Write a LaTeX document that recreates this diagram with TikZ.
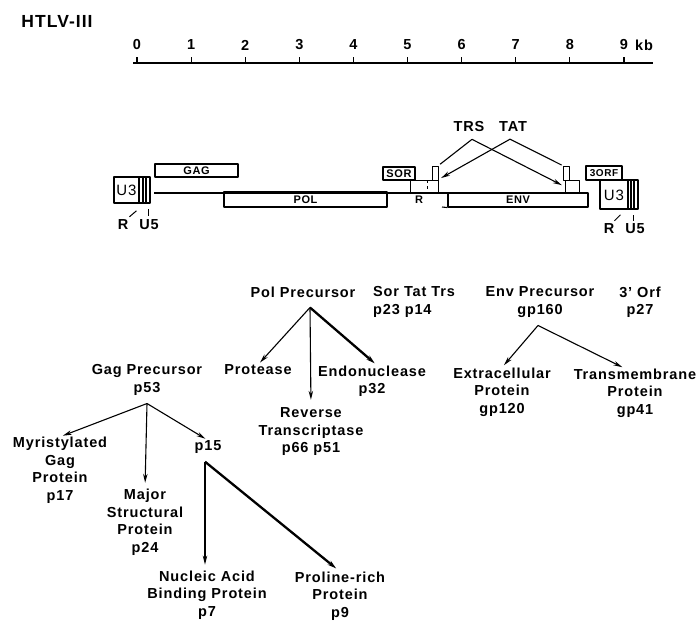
\documentclass[tikz,border=0pt]{standalone}
\usepackage{fontspec}
\setmainfont{Liberation Sans}[LetterSpace=6]
\usetikzlibrary{arrows.meta}
\tikzset{
  lbl/.style={font=\bfseries\fontsize{14.5}{17.5}\selectfont, align=center, inner sep=0pt},
  genebox/.style={draw, line width=1.1pt, inner sep=0pt, font=\bfseries\fontsize{11}{11}\selectfont},
  exon/.style={draw, line width=1pt, inner sep=0pt},
  cut/.style={line width=1.1pt, -{Stealth[length=9pt,width=4.5pt]}, shorten >=3pt},
  heavycut/.style={line width=2.3pt, -{Stealth[length=9pt,width=5pt]}, shorten >=3pt},
}
\begin{document}
\begin{tikzpicture}[x=1pt, y=-1pt, line join=round]
    \useasboundingbox (0,0) rectangle (699,624);
    \node[lbl, font=\bfseries\fontsize{17.5}{17.5}\selectfont] (title) at (57,21) {HTLV-III};
    % kb scale
    \draw[line width=1.3pt] (133,63) -- (653,63);
    \foreach \k in {0,...,9} {
        \node[lbl] (n\k) at ({137+54.1*\k},45) {\k};
        \draw[line width=1.2pt] ({137+54.1*\k},63) -- ++(0,-6);
    }
    \node[lbl] (kb) at (644,45) {kb};
    % genome map
    \draw[line width=1.1pt] (154,193) -- (588,193);
    \draw[line width=1.1pt] (114,177) rectangle (150,203) (139,177) -- (139,203) (143,177) -- (143,203) (146,177) -- (146,203);
    \draw[line width=1.1pt] (600,180) rectangle (638,209) (628,180) -- (628,209) (631,180) -- (631,209) (634,180) -- (634,209);
    \node[inner sep=0pt, font=\fontsize{15}{15}\selectfont] (lu3) at (126.5,190) {U3};
    \node[inner sep=0pt, font=\fontsize{15}{15}\selectfont] (ru3) at (614,195) {U3};
    \node[genebox, minimum width=83pt, minimum height=13pt] (gagbox) at (196.5,170.5) {GAG};
    \node[genebox, minimum width=163pt, minimum height=15pt] (polbox) at (305.5,199.5) {POL};
    \node[genebox, line width=1.7pt, minimum width=32pt, minimum height=13pt] (sorbox) at (399,173.5) {SOR};
    \node[genebox, minimum width=140pt, minimum height=14pt] (envbox) at (518,200) {ENV};
    \node[genebox, line width=1.5pt, minimum width=36pt, minimum height=14pt, font=\bfseries\fontsize{10}{10}\selectfont] (orfbox) at (604,173) {3ORF};
    \draw[line width=1.1pt] (442,207) -- (envbox.south west);
    \node[exon, minimum width=28pt, minimum height=13pt] (lsmall) at (424,186.5) {};
    \node[exon, minimum width=6pt, minimum height=14pt] (ltall) at (435,173) {};
    \draw[dashed, line width=0.8pt] (427,180) -- (427,193);
    \node[exon, minimum width=6pt, minimum height=14pt] (rtall) at (566,173) {};
    \node[exon, minimum width=14pt, minimum height=13pt] (rsmall) at (572,186.5) {};
    \node[lbl, font=\bfseries\fontsize{11}{11}\selectfont] (rlab) at (419,200) {R};
    \node[lbl] (lr) at (123,225) {R};
    \node[lbl] (lu5) at (149,225) {U5};
    \node[lbl] (rr) at (609,229) {R};
    \node[lbl] (ru5) at (635,229) {U5};
    \draw[line width=1pt] ([shift={(1,-3)}]lr.north east) -- ++(7,-6);
    \draw[line width=1pt] ([shift={(-1,-4)}]lu5.north) -- ++(0,-7);
    \draw[line width=1pt] ([shift={(0,-3)}]rr.north east) -- ++(6,-6);
    \draw[line width=1pt] ([shift={(-2,-3)}]ru5.north) -- ++(0,-6);
    \node[lbl] (trs) at (469,127) {TRS};
    \node[lbl] (tat) at (513,127) {TAT};
    \coordinate (trsroot) at ([shift={(3,7)}]trs.south);
    \coordinate (tatroot) at ([shift={(-3,7)}]tat.south);
    \draw[line width=1.1pt, shorten >=2pt] (trsroot) -- (ltall.north east);
    \draw[cut] (trsroot) -- (rsmall.west);
    \draw[cut] (tatroot) -- (lsmall.north east);
    \draw[line width=1.1pt, shorten >=1pt] (tatroot) -- (rtall.north west);
    % protein products
    \node[lbl] (gagp) at (147,380) {Gag Precursor\\p53};
    \node[lbl] (myr) at (60,470) {Myristylated\\Gag\\Protein\\p17};
    \node[lbl] (major) at (145,522) {Major\\Structural\\Protein\\p24};
    \node[lbl] (p15) at (208,447) {p15};
    \node[lbl] (nab) at (207,595) {Nucleic Acid\\Binding Protein\\p7};
    \node[lbl] (prol) at (340,596) {Proline-rich\\Protein\\p9};
    \node[lbl] (polp) at (303,292) {Pol Precursor};
    \node[lbl] (prot) at (258,370) {Protease};
    \node[lbl] (endo) at (372,381) {Endonuclease\\p32};
    \node[lbl] (rt) at (311,432) {Reverse\\Transcriptase\\p66 p51};
    \node[lbl, align=left, anchor=west] (sor) at (373,302) {Sor Tat Trs\\p23 p14};
    \node[lbl] (envp) at (540,302) {Env Precursor\\gp160};
    \node[lbl] (orf) at (640,302) {3' Orf\\p27};
    \node[lbl] (extra) at (502,392) {Extracellular\\Protein\\gp120};
    \node[lbl] (trans) at (635,393) {Transmembrane\\Protein\\gp41};
    \coordinate (gagroot) at ([shift={(0,8)}]gagp.south);
    \coordinate (p15root) at ([shift={(-3,8)}]p15.south);
    \coordinate (polroot) at ([shift={(7,10)}]polp.south);
    \coordinate (envroot) at ([shift={(-2,8)}]envp.south);
    \draw[cut] (gagroot) -- (myr.north);
    \draw[cut, shorten >=6pt] (gagroot) -- (major.north);
    \draw[cut] (gagroot) -- (p15.north);
    \draw[cut, shorten >=6pt] (p15root) -- ([xshift=-2pt]nab.north);
    \draw[heavycut, shorten >=5pt] (p15root) -- (prol.north);
    \draw[cut] (polroot) -- (prot.north);
    \draw[cut, shorten >=8pt] (polroot) -- (rt.north);
    \draw[heavycut] (polroot) -- ([xshift=5pt]endo.north);
    \draw[cut] (envroot) -- (extra.north);
    \draw[cut] (envroot) -- ([xshift=-10pt]trans.north);
\end{tikzpicture}
\end{document}
